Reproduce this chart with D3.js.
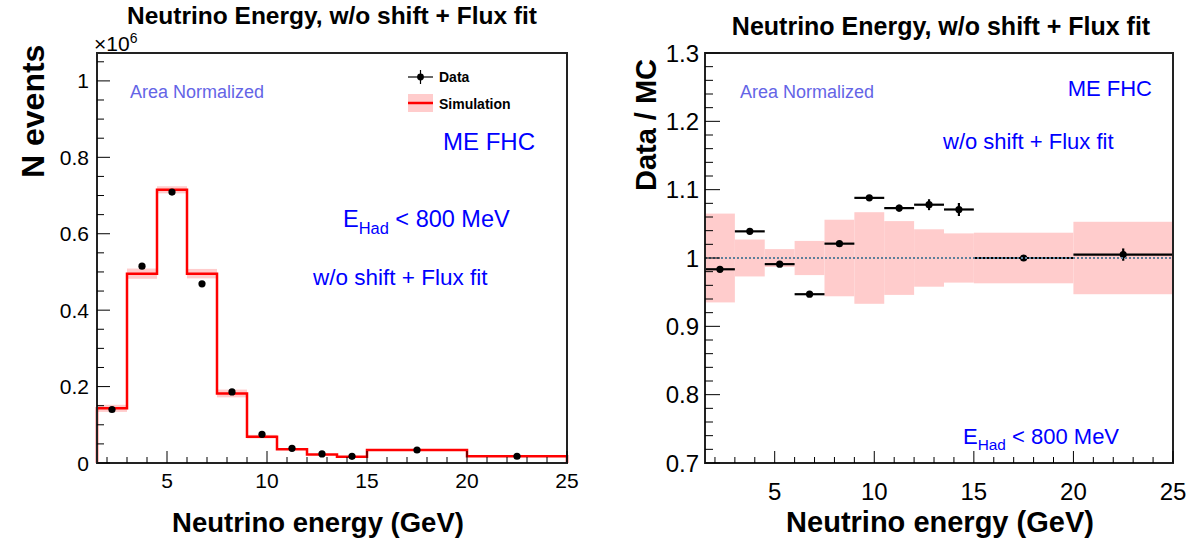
<!DOCTYPE html>
<html>
<head>
<meta charset="utf-8">
<script src="https://cdn.jsdelivr.net/npm/d3@7"></script>
<style>
  html, body { margin: 0; padding: 0; background: #fff; }
  svg { display: block; font-family: "Liberation Sans", Arial, Helvetica, sans-serif; }
</style>
</head>
<body>
<svg id="chart" width="1200" height="542"></svg>
<script>
// Bin edges of the neutrino energy histogram (GeV)
const binEdges = [1.5, 3, 4.5, 6, 7.5, 9, 10.5, 12, 13.5, 15, 20, 25];
// Bin centres where data points sit (GeV)
const binCenters = [2.25, 3.75, 5.25, 6.75, 8.25, 9.75, 11.25, 12.75, 14.25, 17.5, 22.5];
// Simulation (area normalized), units of 10^6 events
const mcValues = [0.143, 0.4955, 0.715, 0.4955, 0.182, 0.069, 0.036, 0.022, 0.0165, 0.034, 0.0175];
// Relative uncertainty of the simulation in each bin
const mcRelErr = [0.065, 0.027, 0.013, 0.025, 0.056, 0.067, 0.054, 0.042, 0.036, 0.037, 0.053];
// Data, units of 10^6 events
const dataValues = [0.14, 0.515, 0.709, 0.469, 0.186, 0.075, 0.0385, 0.0237, 0.0175, 0.034, 0.0176];
// Data / MC ratio and its statistical error
const ratioValues = [0.9835, 1.039, 0.991, 0.947, 1.021, 1.088, 1.073, 1.078, 1.071, 1.000, 1.005];
const ratioErr = [0.002, 0.002, 0.002, 0.002, 0.003, 0.003, 0.005, 0.008, 0.0095, 0.004, 0.009];

const xMajorTicks = [5, 10, 15, 20, 25];
const leftYTicks = [0, 0.2, 0.4, 0.6, 0.8, 1];
const rightYTicks = [0.7, 0.8, 0.9, 1, 1.1, 1.2, 1.3];

const titleText = "Neutrino Energy, w/o shift + Flux fit";
const xTitle = "Neutrino energy (GeV)";

const svg = d3.select("#chart");
const BLUE = "#0000ff";
const SOFTBLUE = "#6464e6";
const BAND = "#ffcccc";

const bins = binCenters.map((c, i) => ({
  x0: binEdges[i], x1: binEdges[i + 1], c,
  mc: mcValues[i], err: mcRelErr[i],
  data: dataValues[i], ratio: ratioValues[i], rerr: ratioErr[i]
}));

// ---------- ROOT-style ticks and labels on the left and bottom edges ----------
function drawAxes(g, x, y, opt) {
  const [x0] = x.range();
  const [yb] = y.range();
  // x ticks every 1 GeV, longer at multiples of 5
  const xMinor = d3.range(2, 26, 1);
  g.append("g").selectAll("line").data(xMinor).join("line")
    .attr("x1", d => x(d)).attr("x2", d => x(d))
    .attr("y1", yb).attr("y2", d => yb - (d % 5 === 0 ? opt.xMajLen : opt.xMinLen))
    .attr("stroke", "#000").attr("stroke-width", 1);
  // y ticks
  g.append("g").selectAll("line").data(opt.yMinor).join("line")
    .attr("x1", x0).attr("x2", d => x0 + (opt.isMajorY(d) ? opt.yMajLen : opt.yMinLen))
    .attr("y1", d => y(d)).attr("y2", d => y(d))
    .attr("stroke", "#000").attr("stroke-width", 1);
  // x labels
  g.append("g").selectAll("text").data(xMajorTicks).join("text")
    .attr("x", d => x(d)).attr("y", opt.xLabelY)
    .attr("text-anchor", "middle")
    .attr("font-size", opt.labelSize).attr("fill", "#000")
    .text(d => d);
  // y labels
  g.append("g").selectAll("text").data(opt.yTicks).join("text")
    .attr("x", x0 - opt.yLabelGap).attr("y", d => y(d))
    .attr("dy", "0.36em")
    .attr("text-anchor", "end")
    .attr("font-size", opt.labelSize).attr("fill", "#000")
    .text(opt.yFormat);
}

function drawFrame(g, x, y) {
  const [x0, x1] = x.range();
  const [yb, yt] = y.range();
  g.append("rect")
    .attr("x", x0).attr("y", yt)
    .attr("width", x1 - x0).attr("height", yb - yt)
    .attr("fill", "none").attr("stroke", "#222").attr("stroke-width", 2);
}

function ehadLabel(g, xPos, yPos, size) {
  const t = g.append("text").attr("x", xPos).attr("y", yPos)
    .attr("font-size", size).attr("fill", BLUE);
  t.append("tspan").text("E");
  t.append("tspan").attr("font-size", size * 0.7).attr("dy", size * 0.28).text("Had");
  t.append("tspan").attr("dy", -size * 0.28).text(" < 800 MeV");
}

// =================== LEFT PANEL: event distribution ===================
{
  const g = svg.append("g");
  const x = d3.scaleLinear().domain([1.5, 25]).range([97, 567]);
  const y = d3.scaleLinear().domain([0, 1.073]).range([463, 53]);

  // simulation uncertainty band
  g.append("g").selectAll("rect").data(bins).join("rect")
    .attr("x", d => x(d.x0)).attr("width", d => x(d.x1) - x(d.x0))
    .attr("y", d => y(d.mc * (1 + d.err)))
    .attr("height", d => y(d.mc * (1 - d.err)) - y(d.mc * (1 + d.err)))
    .attr("fill", BAND);

  // simulation histogram (step line)
  const stepPts = [[binEdges[0], 0]];
  bins.forEach(d => { stepPts.push([d.x0, d.mc]); stepPts.push([d.x1, d.mc]); });
  stepPts.push([binEdges[binEdges.length - 1], 0]);
  g.append("path")
    .attr("d", d3.line().x(p => x(p[0])).y(p => y(p[1]))(stepPts))
    .attr("fill", "none").attr("stroke", "#ff0000").attr("stroke-width", 2.5);

  // data points
  g.append("g").selectAll("circle").data(bins).join("circle")
    .attr("cx", d => x(d.c)).attr("cy", d => y(d.data))
    .attr("r", 3.6).attr("fill", "#000");

  drawFrame(g, x, y);
  drawAxes(g, x, y, {
    xMajLen: 12, xMinLen: 6, yMajLen: 13, yMinLen: 7,
    yMinor: d3.range(0, 1.0501, 0.05).map(v => +v.toFixed(2)),
    isMajorY: d => Math.abs(d * 5 - Math.round(d * 5)) < 1e-6,
    yTicks: leftYTicks, yFormat: d => (d === 0 || d === 1) ? d : d.toFixed(1),
    labelSize: 21, xLabelY: 488, yLabelGap: 8
  });

  // exponent on the y axis
  const ex = g.append("text").attr("x", 94).attr("y", 51).attr("font-size", 21).attr("fill", "#000");
  ex.append("tspan").text("\u00d710");
  ex.append("tspan").attr("font-size", 14).attr("dy", -8).text("6");

  // titles
  g.append("text").attr("x", 332).attr("y", 24).attr("text-anchor", "middle")
    .attr("font-size", 24.5).attr("font-weight", "bold").text(titleText);
  g.append("text").attr("x", 318).attr("y", 532).attr("text-anchor", "middle")
    .attr("font-size", 27.5).attr("font-weight", "bold").text(xTitle);
  g.append("text").attr("transform", "translate(44,178) rotate(-90)")
    .attr("text-anchor", "start")
    .attr("font-size", 32).attr("font-weight", "bold").text("N events");

  // annotations
  g.append("text").attr("x", 130).attr("y", 98).attr("font-size", 18).attr("fill", SOFTBLUE).text("Area Normalized");
  g.append("text").attr("x", 443).attr("y", 150).attr("font-size", 24).attr("fill", BLUE).text("ME FHC");
  ehadLabel(g, 343, 227, 23.5);
  g.append("text").attr("x", 313).attr("y", 285).attr("font-size", 22.5).attr("fill", BLUE).text("w/o shift + Flux fit");

  // legend
  const lg = g.append("g");
  lg.append("line").attr("x1", 408).attr("x2", 433).attr("y1", 77).attr("y2", 77).attr("stroke", "#000").attr("stroke-width", 1.2);
  lg.append("line").attr("x1", 420.5).attr("x2", 420.5).attr("y1", 70).attr("y2", 84).attr("stroke", "#000").attr("stroke-width", 1.2);
  lg.append("circle").attr("cx", 420.5).attr("cy", 77).attr("r", 3.4).attr("fill", "#000");
  lg.append("text").attr("x", 439).attr("y", 82).attr("font-size", 14).attr("font-weight", "bold").text("Data");
  lg.append("rect").attr("x", 408).attr("y", 94).attr("width", 25).attr("height", 18).attr("fill", BAND);
  lg.append("line").attr("x1", 408).attr("x2", 433).attr("y1", 103).attr("y2", 103).attr("stroke", "#ff0000").attr("stroke-width", 2.5);
  lg.append("text").attr("x", 439).attr("y", 109).attr("font-size", 14).attr("font-weight", "bold").text("Simulation");
}

// =================== RIGHT PANEL: data / MC ratio ===================
{
  const g = svg.append("g");
  const x = d3.scaleLinear().domain([1.5, 25]).range([705, 1173]);
  const y = d3.scaleLinear().domain([0.7, 1.3]).range([463, 53]);

  // simulation uncertainty band around unity
  g.append("g").selectAll("rect").data(bins).join("rect")
    .attr("x", d => x(d.x0)).attr("width", d => x(d.x1) - x(d.x0))
    .attr("y", d => y(1 + d.err))
    .attr("height", d => y(1 - d.err) - y(1 + d.err))
    .attr("fill", BAND);

  // ratio points with bin-width bars and error bars
  const pts = g.append("g");
  pts.selectAll("line.h").data(bins).join("line").attr("class", "h")
    .attr("x1", d => x(d.x0)).attr("x2", d => x(d.x1))
    .attr("y1", d => y(d.ratio)).attr("y2", d => y(d.ratio))
    .attr("stroke", "#000").attr("stroke-width", 2.2);
  pts.selectAll("line.v").data(bins).join("line").attr("class", "v")
    .attr("x1", d => x(d.c)).attr("x2", d => x(d.c))
    .attr("y1", d => y(d.ratio - d.rerr)).attr("y2", d => y(d.ratio + d.rerr))
    .attr("stroke", "#000").attr("stroke-width", 2.2);
  pts.selectAll("circle").data(bins).join("circle")
    .attr("cx", d => x(d.c)).attr("cy", d => y(d.ratio))
    .attr("r", 3.6).attr("fill", "#000");

  // unity reference line
  g.append("line").attr("x1", x(1.5)).attr("x2", x(25)).attr("y1", y(1)).attr("y2", y(1))
    .attr("stroke", "#5f7f9a").attr("stroke-width", 2).attr("stroke-dasharray", "2,2");

  drawFrame(g, x, y);
  drawAxes(g, x, y, {
    xMajLen: 12, xMinLen: 6, yMajLen: 15, yMinLen: 8,
    yMinor: d3.range(0.7, 1.3001, 0.02).map(v => +v.toFixed(2)),
    isMajorY: d => Math.abs(d * 10 - Math.round(d * 10)) < 1e-6,
    yTicks: rightYTicks, yFormat: d => d === 1 ? "1" : d.toFixed(1),
    labelSize: 24, xLabelY: 500, yLabelGap: 6
  });

  g.append("text").attr("x", 941).attr("y", 35).attr("text-anchor", "middle")
    .attr("font-size", 25).attr("font-weight", "bold").text(titleText);
  g.append("text").attr("x", 940).attr("y", 532).attr("text-anchor", "middle")
    .attr("font-size", 29).attr("font-weight", "bold").text(xTitle);
  g.append("text").attr("transform", "translate(656,125) rotate(-90)")
    .attr("text-anchor", "middle")
    .attr("font-size", 29).attr("font-weight", "bold").text("Data / MC");

  g.append("text").attr("x", 740).attr("y", 98).attr("font-size", 18).attr("fill", SOFTBLUE).text("Area Normalized");
  g.append("text").attr("x", 1152).attr("y", 96).attr("text-anchor", "end").attr("font-size", 22).attr("fill", BLUE).text("ME FHC");
  g.append("text").attr("x", 943).attr("y", 149).attr("font-size", 22).attr("fill", BLUE).text("w/o shift + Flux fit");
  ehadLabel(g, 963, 444, 22);
}
</script>
</body>
</html>
